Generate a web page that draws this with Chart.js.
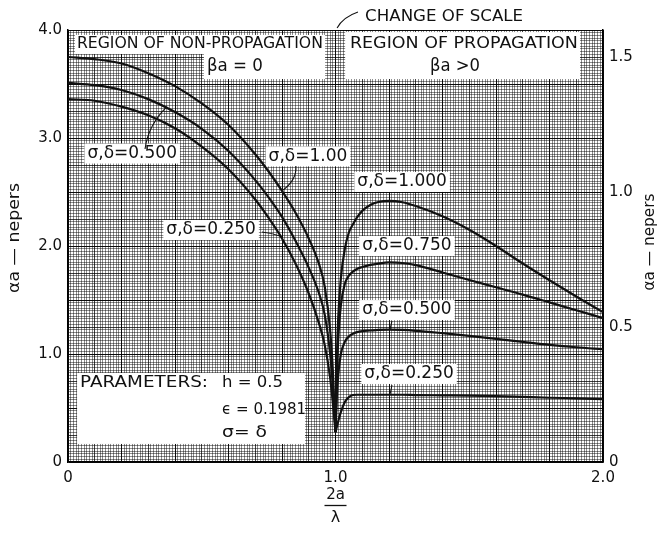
<!DOCTYPE html>
<html>
<head>
<meta charset="utf-8">
<title>Attenuation vs 2a/λ</title>
<script src="https://cdn.jsdelivr.net/npm/chart.js@4.4.0/dist/chart.umd.min.js"></script>
<style>
    html, body { margin: 0; padding: 0; background: #fff; }
</style>
</head>
<body>
<canvas id="chart" width="665" height="533"></canvas>
<script>
// 2a/lambda below cutoff (left scale, 0..4 nepers)
const xBelow = [0, 0.1, 0.2, 0.3, 0.4, 0.5, 0.6, 0.7, 0.75, 0.8, 0.85, 0.9, 0.94, 0.96, 0.98, 0.99, 1.0];
const below100 = [3.75, 3.73, 3.69, 3.60, 3.48, 3.32, 3.12, 2.85, 2.69, 2.51, 2.31, 2.07, 1.82, 1.62, 1.22, 0.85, 0.28];
const below050 = [3.51, 3.49, 3.445, 3.36, 3.24, 3.085, 2.88, 2.61, 2.45, 2.27, 2.05, 1.80, 1.55, 1.36, 1.00, 0.70, 0.28];
const below025 = [3.36, 3.345, 3.29, 3.21, 3.09, 2.92, 2.71, 2.43, 2.26, 2.07, 1.84, 1.56, 1.27, 1.08, 0.78, 0.55, 0.28];

// 2a/lambda above cutoff (right scale, 0..1.6 nepers)
const xAbove = [1.0, 1.005, 1.01, 1.02, 1.035, 1.05, 1.065, 1.08, 1.1, 1.13, 1.16, 1.2, 1.25, 1.3, 1.4, 1.5, 1.6, 1.7, 1.8, 1.9, 2.0];
const above100 = [0.11, 0.38, 0.53, 0.68, 0.79, 0.85, 0.88, 0.905, 0.93, 0.952, 0.963, 0.967, 0.962, 0.948, 0.910, 0.860, 0.800, 0.735, 0.673, 0.613, 0.555];
const above075 = [0.11, 0.32, 0.45, 0.58, 0.66, 0.69, 0.705, 0.715, 0.722, 0.73, 0.735, 0.739, 0.737, 0.729, 0.702, 0.674, 0.647, 0.620, 0.591, 0.562, 0.533];
const above050 = [0.11, 0.24, 0.32, 0.40, 0.445, 0.465, 0.475, 0.481, 0.485, 0.487, 0.489, 0.49, 0.489, 0.486, 0.477, 0.467, 0.456, 0.445, 0.434, 0.425, 0.418];
const above025 = [0.11, 0.13, 0.15, 0.185, 0.222, 0.24, 0.248, 0.249, 0.249, 0.249, 0.249, 0.249, 0.249, 0.248, 0.247, 0.246, 0.244, 0.241, 0.238, 0.236, 0.233];

const xTickLabels = ['0', '1.0', '2.0'];
const yLeftTickLabels = ['0', '1.0', '2.0', '3.0', '4.0'];
const yRightTicks = [0, 0.5, 1.0, 1.5];
const yRightTickLabels = ['0', '0.5', '1.0', '1.5'];

const INK = '#111';
const FONT = '"DejaVu Sans", sans-serif';

function pts(xs, ys) {
    return xs.map((x, i) => ({ x: x, y: ys[i] }));
}

function pick(labels) {
    return function(value) {
        const hit = labels.find(l => Math.abs(parseFloat(l) - value) < 1e-6);
        return hit === undefined ? '' : hit;
    };
}

// graph paper: heavy / medium / fine rulings
function paperColor(idx, major, minor) {
    if (idx % major === 0) return 'rgba(0,0,0,0.95)';
    if (idx % minor === 0) return 'rgba(0,0,0,0.75)';
    return 'rgba(0,0,0,0.45)';
}

// white patches behind the lettering
const blanks = [
    [0.026, 3.954, 0.961, 3.778],
    [0.508, 3.787, 0.961, 3.546],
    [1.036, 3.981, 1.914, 3.546],
    [0.034, 0.824, 0.886, 0.167]
];

const headings = [
    { text: 'REGION OF NON-PROPAGATION', x: 0.493, y: 3.87, size: 15, w: 246 },
    { text: '\u03b2a = 0', x: 0.624, y: 3.657, size: 17, w: 56 },
    { text: 'REGION OF PROPAGATION', x: 1.48, y: 3.87, size: 15, w: 228 },
    { text: '\u03b2a >0', x: 1.447, y: 3.657, size: 17, w: 50 },
    { text: 'CHANGE OF SCALE', x: 1.406, y: 4.12, size: 15, w: 158 }
];

const params = [
    { text: 'PARAMETERS:', x: 0.045, y: 0.731, w: 128 },
    { text: 'h = 0.5', x: 0.576, y: 0.731, w: 61 },
    { text: '\u03f5 = 0.1981', x: 0.576, y: 0.481, w: 84 },
    { text: '\u03c3= \u03b4', x: 0.576, y: 0.269, w: 45 }
];

const curveTags = [
    { text: '\u03c3,\u03b4=0.500', x: 0.24, y: 2.856 },
    { text: '\u03c3,\u03b4=1.00', x: 0.897, y: 2.83 },
    { text: '\u03c3,\u03b4=0.250', x: 0.535, y: 2.148 },
    { text: '\u03c3,\u03b4=1.000', x: 1.249, y: 2.593 },
    { text: '\u03c3,\u03b4=0.750', x: 1.267, y: 2.0 },
    { text: '\u03c3,\u03b4=0.500', x: 1.267, y: 1.407 },
    { text: '\u03c3,\u03b4=0.250', x: 1.275, y: 0.815 }
];

// leader strokes: start, control, end
const leaders = [
    [0.288, 2.898, 0.30, 3.12, 0.37, 3.29],
    [0.852, 2.74, 0.856, 2.61, 0.80, 2.51],
    [0.725, 2.13, 0.763, 2.12, 0.795, 2.09],
    [1.211, 1.306, 1.208, 1.27, 1.204, 1.23],
    [1.211, 0.713, 1.208, 0.67, 1.204, 0.63],
    [1.006, 4.019, 1.028, 4.12, 1.084, 4.167]
];

function putText(ctx, text, x, y, size, align, width) {
    ctx.font = size + 'px ' + FONT;
    ctx.textAlign = align || 'center';
    ctx.textBaseline = 'middle';
    const m = ctx.measureText(text).width;
    const sx = width ? width / m : 1;
    ctx.save();
    ctx.translate(x, y);
    ctx.scale(sx, 1);
    ctx.fillText(text, 0, 0);
    ctx.restore();
}

const paperNotes = {
    id: 'paperNotes',
    beforeDatasetsDraw(chart) {
        const ctx = chart.ctx;
        const X = v => chart.scales.x.getPixelForValue(v);
        const Y = v => chart.scales.y.getPixelForValue(v);
        ctx.save();
        ctx.fillStyle = '#fff';
        blanks.forEach(b => {
            ctx.fillRect(X(b[0]), Y(b[1]), X(b[2]) - X(b[0]), Y(b[3]) - Y(b[1]));
        });
        ctx.font = '17px ' + FONT;
        curveTags.forEach(t => {
            const w = ctx.measureText(t.text).width;
            ctx.fillRect(X(t.x) - w / 2 - 3, Y(t.y) - 10, w + 6, 20);
        });
        ctx.restore();
    },
    afterDatasetsDraw(chart) {
        const ctx = chart.ctx;
        const X = v => chart.scales.x.getPixelForValue(v);
        const Y = v => chart.scales.y.getPixelForValue(v);
        ctx.save();
        ctx.fillStyle = INK;
        ctx.strokeStyle = INK;

        headings.forEach(h => putText(ctx, h.text, X(h.x), Y(h.y), h.size, 'center', h.w));
        params.forEach(p => putText(ctx, p.text, X(p.x), Y(p.y), 16, 'left', p.w));
        curveTags.forEach(t => putText(ctx, t.text, X(t.x), Y(t.y), 17, 'center'));

        ctx.lineWidth = 1.1;
        leaders.forEach(l => {
            ctx.beginPath();
            ctx.moveTo(X(l[0]), Y(l[1]));
            ctx.quadraticCurveTo(X(l[2]), Y(l[3]), X(l[4]), Y(l[5]));
            ctx.stroke();
        });

        // axis titles, read bottom to top
        ctx.save();
        ctx.translate(15, 238);
        ctx.rotate(-Math.PI / 2);
        putText(ctx, '\u03b1a \u2014 nepers', 0, 0, 15, 'center', 110);
        ctx.restore();
        ctx.save();
        ctx.translate(650, 242);
        ctx.rotate(-Math.PI / 2);
        putText(ctx, '\u03b1a \u2014 nepers', 0, 0, 15, 'center', 97);
        ctx.restore();

        const cx = X(1.0);
        putText(ctx, '2a', cx, 495, 15, 'center');
        ctx.lineWidth = 1.3;
        ctx.beginPath();
        ctx.moveTo(cx - 11, 505.5);
        ctx.lineTo(cx + 11, 505.5);
        ctx.stroke();
        putText(ctx, '\u03bb', cx, 518, 16, 'center');
        ctx.restore();
    }
};

function curve(points, axis) {
    return {
        data: points,
        yAxisID: axis,
        borderColor: INK,
        borderWidth: 2.2,
        pointRadius: 0,
        fill: false,
        cubicInterpolationMode: 'monotone'
    };
}

const tickFont = { family: FONT, size: 15 };

new Chart(document.getElementById('chart').getContext('2d'), {
    type: 'line',
    data: {
        datasets: [
            curve(pts(xBelow, below100), 'y'),
            curve(pts(xBelow, below050), 'y'),
            curve(pts(xBelow, below025), 'y'),
            curve(pts(xAbove, above100), 'y1'),
            curve(pts(xAbove, above075), 'y1'),
            curve(pts(xAbove, above050), 'y1'),
            curve(pts(xAbove, above025), 'y1')
        ]
    },
    options: {
        responsive: false,
        animation: false,
        layout: { padding: { top: 30, left: 0, right: 0, bottom: 0 } },
        plugins: {
            legend: { display: false },
            tooltip: { enabled: false }
        },
        scales: {
            x: {
                type: 'linear',
                min: 0,
                max: 2,
                afterFit: s => { s.height = 71; },
                ticks: {
                    stepSize: 0.01,
                    autoSkip: false,
                    maxRotation: 0,
                    padding: 7,
                    color: INK,
                    font: tickFont,
                    callback: pick(xTickLabels)
                },
                grid: {
                    drawTicks: false,
                    color: c => paperColor(c.index, 20, 10),
                    lineWidth: 1
                },
                border: { display: true, color: '#000', width: 1.5 }
            },
            y: {
                type: 'linear',
                position: 'left',
                min: 0,
                max: 4,
                afterFit: s => { s.width = 68; },
                ticks: {
                    stepSize: 0.025,
                    autoSkip: false,
                    padding: 6,
                    color: INK,
                    font: tickFont,
                    callback: pick(yLeftTickLabels)
                },
                grid: {
                    drawTicks: false,
                    color: c => paperColor(c.index, 20, 10),
                    lineWidth: 1
                },
                border: { display: true, color: '#000', width: 1.5 }
            },
            y1: {
                type: 'linear',
                position: 'right',
                min: 0,
                max: 1.6,
                afterFit: s => { s.width = 62; },
                afterBuildTicks: s => { s.ticks = yRightTicks.map(v => ({ value: v })); },
                ticks: {
                    padding: 6,
                    color: INK,
                    font: tickFont,
                    callback: (v, i) => yRightTickLabels[i]
                },
                grid: { display: false, drawTicks: false },
                border: { display: true, color: '#000', width: 1.5 }
            }
        }
    },
    plugins: [paperNotes]
});
</script>
</body>
</html>
